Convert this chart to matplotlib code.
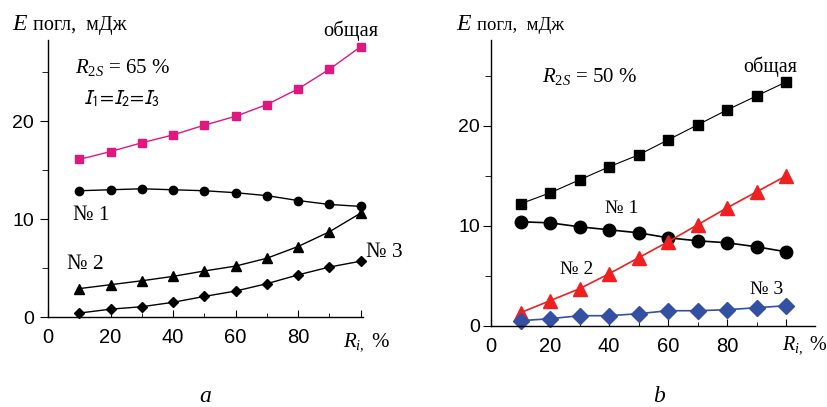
import numpy as np
import matplotlib.pyplot as plt

plt.rcParams['font.family'] = 'Liberation Sans'
plt.rcParams['mathtext.fontset'] = 'custom'
plt.rcParams['mathtext.rm'] = 'Liberation Serif'
plt.rcParams['mathtext.it'] = 'Liberation Serif:italic'

# --- данные (a): R2S = 65 %
ri = [10, 20, 30, 40, 50, 60, 70, 80, 90, 100]
a_total = [16.1, 16.9, 17.8, 18.6, 19.6, 20.5, 21.7, 23.3, 25.3, 27.6]
a_n1 = [12.9, 13.0, 13.1, 13.0, 12.9, 12.7, 12.4, 11.9, 11.5, 11.3]
a_n2 = [2.9, 3.3, 3.7, 4.15, 4.7, 5.2, 6.0, 7.2, 8.7, 10.6]
a_n3 = [0.4, 0.8, 1.05, 1.5, 2.1, 2.65, 3.4, 4.3, 5.1, 5.7]

# --- данные (b): R2S = 50 %
b_total = [12.2, 13.3, 14.6, 15.9, 17.1, 18.6, 20.1, 21.6, 23.0, 24.4]
b_n1 = [10.4, 10.3, 9.9, 9.6, 9.3, 8.8, 8.5, 8.3, 7.9, 7.4]
b_n2 = [1.3, 2.5, 3.7, 5.2, 6.8, 8.4, 10.1, 11.8, 13.4, 15.0]
b_n3 = [0.5, 0.7, 1.0, 1.0, 1.2, 1.5, 1.5, 1.6, 1.8, 2.0]

xticks = [0, 20, 40, 60, 80, 100]
xlabels = ['0', '20', '40', '60', '80', '']

W, H = 827, 407
fig = plt.figure(figsize=(W / 100, H / 100), dpi=100)


def fx(px):
    return px / W


def fy(py):
    return 1 - py / H


def style_axes(ax, xmax, ymax, ypad):
    ax.set_xlim(0, xmax)
    ax.set_ylim(0, ymax)
    for s in ['top', 'right']:
        ax.spines[s].set_visible(False)
    for s in ['left', 'bottom']:
        ax.spines[s].set_linewidth(1.0)
    ax.set_xticks(xticks, xlabels)
    ax.set_xticks(np.arange(10, 101, 20), minor=True)
    ax.set_yticks([0, 10, 20], ['0', '10', '20'])
    ax.set_yticks([5, 15, 25], minor=True)
    ax.tick_params(axis='x', which='both', direction='in', labelsize=14.5, pad=8)
    ax.tick_params(axis='x', which='major', length=5)
    ax.tick_params(axis='x', which='minor', length=3)
    ax.tick_params(axis='y', which='both', direction='out', labelsize=14, pad=ypad)
    ax.tick_params(axis='y', which='major', length=6)
    ax.tick_params(axis='y', which='minor', length=4)


# ---------- (a)
ax1 = fig.add_axes([fx(48), fy(317), fx(363 - 48), (317 - 40) / H])
style_axes(ax1, 100.8, 28.3, 4)
ax1.plot(ri, a_total, '-s', color='#e0177f', lw=1.0, ms=5.5, clip_on=False)
ax1.plot(ri, a_n1, '-o', color='black', lw=1.0, ms=6, clip_on=False)
ax1.plot(ri, a_n2, '-^', color='black', lw=1.0, ms=6.5, clip_on=False)
ax1.plot(ri, a_n3, '-D', color='black', lw=1.0, ms=5.5, clip_on=False)

# ---------- (b)
ax2 = fig.add_axes([fx(491), fy(325.7), fx(815 - 491), (325.7 - 40) / H])
style_axes(ax2, 109.8, 28.6, 2)
ax2.plot(ri, b_total, '-s', color='black', lw=0.8, ms=7.5, clip_on=False)
ax2.plot(ri, b_n1, '-o', color='black', lw=1.2, ms=9, clip_on=False)
ax2.plot(ri, b_n2, '-^', color='#ee2020', lw=1.2, ms=9.5, clip_on=False)
ax2.plot(ri, b_n3, '-D', color='#3350a3', lw=1.2, ms=8, clip_on=False)

# ---------- подписи
serif = 'Liberation Serif'
fig.text(fx(12), fy(30), 'E', family=serif, style='italic', size=17, va='baseline')
fig.text(fx(33), fy(30), 'погл,  мДж', family=serif, size=14.5, va='baseline')
fig.text(fx(456), fy(30), 'E', family=serif, style='italic', size=17, va='baseline')
fig.text(fx(477), fy(30), 'погл,  мДж', family=serif, size=13.5, va='baseline')

fig.text(fx(323), fy(36), 'общая', family=serif, size=14.8, va='baseline')
fig.text(fx(75), fy(73), r'$R_{2S}$ = 65 %', family=serif, size=15, va='baseline')
fig.text(fx(83), fy(104), r'$I_1\!=\!I_2\!=\!I_3$', size=14.5, va='baseline',
         math_fontfamily='stixsans')
fig.text(fx(73), fy(220), '№ 1', family=serif, size=15.5, va='baseline')
fig.text(fx(67), fy(269), '№ 2', family=serif, size=15.5, va='baseline')
fig.text(fx(366), fy(257), '№ 3', family=serif, size=15.5, va='baseline')
fig.text(fx(343), fy(346), r'$R_{i,}$ %', family=serif, size=15, va='baseline')
fig.text(fx(205), fy(396), 'a', family=serif, style='italic', size=17,
         ha='center', va='center')

fig.text(fx(542), fy(82), r'$R_{2S}$ = 50 %', family=serif, size=15, va='baseline')
fig.text(fx(743), fy(72), 'общая', family=serif, size=14.5, va='baseline')
fig.text(fx(605), fy(213), '№ 1', family=serif, size=14, va='baseline')
fig.text(fx(560), fy(274), '№ 2', family=serif, size=14, va='baseline')
fig.text(fx(750), fy(294), '№ 3', family=serif, size=14, va='baseline')
fig.text(fx(782), fy(349), r'$R_{i,}$ %', family=serif, size=14.5, va='baseline')
fig.text(fx(659), fy(396), 'b', family=serif, style='italic', size=17,
         ha='center', va='center')

fig.savefig('out.png', dpi=100)
